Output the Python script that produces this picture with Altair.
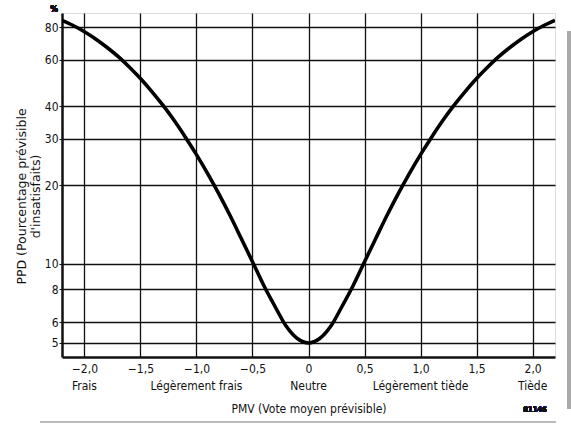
import altair as alt
import pandas as pd

# PMV / PPD curve values (%)
pmv = [-2.2, -2.1, -2.0, -1.9, -1.8, -1.7, -1.6, -1.5, -1.4, -1.3, -1.2, -1.1,
       -1.0, -0.9, -0.8, -0.7, -0.6, -0.5, -0.4, -0.3, -0.2, -0.1, 0.0,
       0.1, 0.2, 0.3, 0.4, 0.5, 0.6, 0.7, 0.8, 0.9, 1.0, 1.1, 1.2, 1.3,
       1.4, 1.5, 1.6, 1.7, 1.8, 1.9, 2.0, 2.1, 2.2]
ppd = [84.9, 81.1, 76.8, 72.1, 67.0, 61.8, 56.3, 50.9, 45.5, 40.3, 35.3, 30.5,
       26.1, 22.1, 18.5, 15.3, 12.5, 10.2, 8.3, 6.9, 5.8, 5.2, 5.0,
       5.2, 5.8, 6.9, 8.3, 10.2, 12.5, 15.3, 18.5, 22.1, 26.1, 30.5, 35.3, 40.3,
       45.5, 50.9, 56.3, 61.8, 67.0, 72.1, 76.8, 81.1, 84.9]

x_ticks = [-2.0, -1.5, -1.0, -0.5, 0.0, 0.5, 1.0, 1.5, 2.0]
y_ticks = [5, 6, 8, 10, 20, 30, 40, 60, 80]

sens_pos = [-2.0, -1.0, 0.0, 1.0, 2.0]
sens_lab = ["Frais", "Légèrement frais", "Neutre", "Légèrement tiède", "Tiède"]

FONT = "DejaVu Sans Condensed, Liberation Sans, sans-serif"
TITLE_FONT = "DejaVu Sans, Liberation Sans, sans-serif"
W, H = 493, 344

curve_df = pd.DataFrame({"pmv": pmv, "ppd": ppd})
sens_df = pd.DataFrame({"pmv": sens_pos, "lab": sens_lab})

x_scale = alt.Scale(domain=[-2.2, 2.2], nice=False, zero=False)
y_scale = alt.Scale(type="log", domain=[4.42, 90.5], nice=False)

x_axis = alt.Axis(
    values=x_ticks, grid=True, gridColor="#111", gridWidth=1.3, gridOpacity=1,
    ticks=False, domain=True, domainColor="#111", domainWidth=2.5,
    labelExpr="datum.value == 0 ? '0' : replace(format(datum.value, '.1f'), '.', ',')",
    labelFont=FONT, labelFontSize=12, labelColor="#111", labelPadding=6,
    title="PMV (Vote moyen prévisible)", titleFont=FONT, titleFontSize=12,
    titleFontWeight="normal", titleColor="#111", titlePadding=29,
)
y_axis = alt.Axis(
    values=y_ticks, grid=True, gridColor="#111", gridWidth=1.3, gridOpacity=1,
    ticks=True, tickSize=3, tickColor="#111", domain=True, domainColor="#111",
    domainWidth=2.5, format="d",
    labelFont=FONT, labelFontSize=12, labelColor="#111", labelPadding=1,
    title=["PPD (Pourcentage prévisible", "d'insatisfaits)"], titleFont=TITLE_FONT,
    titleFontSize=12.5, titleFontWeight="normal", titleColor="#111",
    titleLineHeight=14, titleAngle=-90, titleX=-34, titleY=183,
    titleAlign="center",
)

curve = alt.Chart(curve_df).mark_line(
    color="#000", strokeWidth=3.6, interpolate="monotone", clip=True
).encode(
    x=alt.X("pmv:Q", scale=x_scale, axis=x_axis),
    y=alt.Y("ppd:Q", scale=y_scale, axis=y_axis),
)

sens = alt.Chart(sens_df).mark_text(
    font=FONT, fontSize=12, color="#111", baseline="middle"
).encode(
    x=alt.X("pmv:Q", scale=x_scale),
    y=alt.value(373),
    text="lab:N",
)

pct = alt.Chart(curve_df).mark_text(
    font=FONT, fontSize=9, color="#111", text="%"
).encode(x=alt.value(-8), y=alt.value(-4))

ref_no = alt.Chart(curve_df).mark_text(
    font=FONT, fontSize=7.5, fontWeight="bold", color="#111", text="81146"
).encode(x=alt.value(473), y=alt.value(397))

frame_r = alt.Chart(curve_df).mark_rule(color="#aaa", strokeWidth=3).encode(
    x=alt.value(507), y=alt.value(18), y2=alt.value(396)
)
frame_b = alt.Chart(curve_df).mark_rule(color="#bbb", strokeWidth=1.5).encode(
    x=alt.value(-22), x2=alt.value(494), y=alt.value(409)
)

chart = alt.layer(curve, sens, pct, ref_no, frame_r, frame_b).properties(
    width=W, height=H,
    padding={"left": 62, "top": 13, "right": 16, "bottom": 68},
    autosize=alt.AutoSizeParams(type="none"),
).configure_view(stroke="#111", strokeWidth=1.6).configure(background="white")

chart.save("out.html", embed_options={"renderer": "svg", "actions": False})
